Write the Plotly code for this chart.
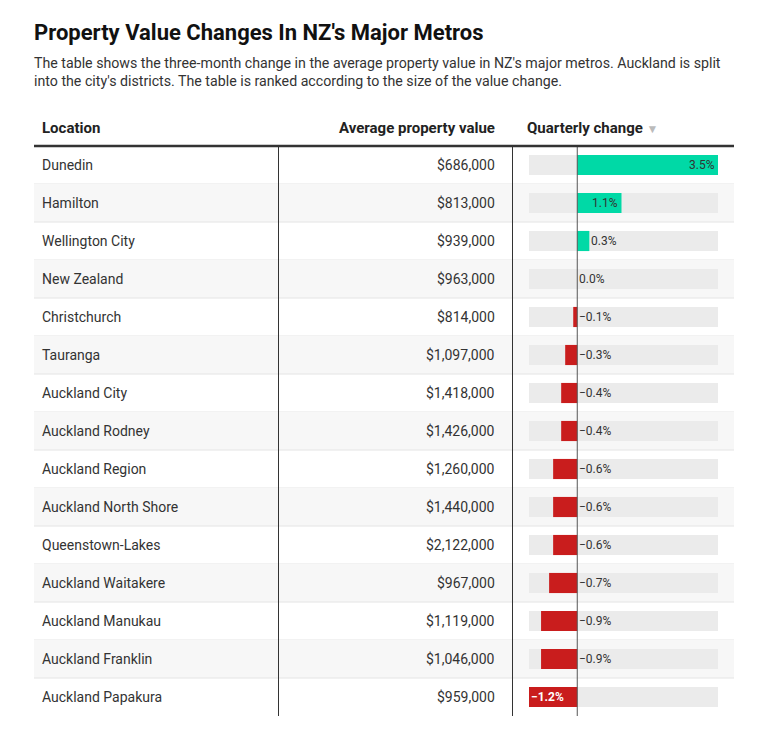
import plotly.graph_objects as go

locations = ["Dunedin", "Hamilton", "Wellington City", "New Zealand", "Christchurch",
             "Tauranga", "Auckland City", "Auckland Rodney", "Auckland Region",
             "Auckland North Shore", "Queenstown-Lakes", "Auckland Waitakere",
             "Auckland Manukau", "Auckland Franklin", "Auckland Papakura"]
values_usd = [686000, 813000, 939000, 963000, 814000, 1097000, 1418000, 1426000,
              1260000, 1440000, 2122000, 967000, 1119000, 1046000, 959000]
changes = [3.5, 1.1, 0.3, 0.0, -0.1, -0.3, -0.4, -0.4, -0.6, -0.6, -0.6, -0.7, -0.9, -0.9, -1.2]

# the page body adds an 8px margin, so the figure is offset and sized accordingly
OFF = 8
W, H = 744, 720
TOP, BOT = 146, 716
n = len(locations)
xmin, xmax = min(changes), max(changes)

def px(x):
    return (x - OFF) / W

def py(y):
    return 1 - (y - OFF) / H

GREEN = "#00d9a6"
RED = "#c91d1d"
TRACK = "#ebebeb"
TXT = "#333333"
FONT = "Roboto"

ys = list(range(n))
fig = go.Figure()
fig.add_trace(go.Bar(
    y=ys, x=[xmax - xmin] * n, base=[xmin] * n, orientation="h",
    marker=dict(color=TRACK, line=dict(width=0)), width=0.53, hoverinfo="skip"))
fig.add_trace(go.Bar(
    y=ys, x=changes, orientation="h",
    marker=dict(color=[GREEN if v >= 0 else RED for v in changes], line=dict(width=0)),
    width=0.53, hoverinfo="skip"))

shapes = []
annotations = []

for i in range(n):
    if i % 2 == 1:
        shapes.append(dict(type="rect", xref="paper", yref="y", x0=px(34), x1=px(734),
                           y0=i - 0.5, y1=i + 0.5, fillcolor="#f7f7f7",
                           line=dict(width=0), layer="below"))
    if i < n - 1:
        shapes.append(dict(type="line", xref="paper", yref="y", x0=px(34), x1=px(734),
                           y0=i + 0.5, y1=i + 0.5, line=dict(color="#e4e4e4", width=1),
                           layer="below"))

for xv in (278.5, 512.5):
    shapes.append(dict(type="line", xref="paper", yref="y", x0=px(xv), x1=px(xv),
                       y0=-0.5, y1=n - 0.5, line=dict(color="#333333", width=1)))
shapes.append(dict(type="line", xref="x", yref="y", x0=0, x1=0, y0=-0.5, y1=n - 0.5,
                   line=dict(color="#555555", width=1)))
shapes.append(dict(type="line", xref="paper", yref="paper", x0=px(34), x1=px(734),
                   y0=py(146), y1=py(146), line=dict(color="#333333", width=2.5)))

# annotation boxes add 2px padding; compensate so text edges land on target pixels
LEFT = lambda x: px(x - 2)
RIGHT = lambda x: px(x + 2)

annotations.append(dict(xref="paper", yref="paper", x=LEFT(34), y=py(33), xanchor="left",
                        yanchor="middle", showarrow=False,
                        text="<b>Property Value Changes In NZ's Major Metros</b>",
                        font=dict(family=FONT, size=22, color="#111111")))
annotations.append(dict(xref="paper", yref="paper", x=LEFT(34), y=py(72), xanchor="left",
                        yanchor="middle", showarrow=False, align="left",
                        text="The table shows the three-month change in the average property value in NZ's major metros. Auckland is split<br>into the city's districts. The table is ranked according to the size of the value change.",
                        font=dict(family=FONT, size=14.2, color="#333333")))
hy = py(128)
annotations.append(dict(xref="paper", yref="paper", x=LEFT(42), y=hy, xanchor="left",
                        yanchor="middle", showarrow=False, text="<b>Location</b>",
                        font=dict(family=FONT, size=15, color="#222222")))
annotations.append(dict(xref="paper", yref="paper", x=RIGHT(495), y=hy, xanchor="right",
                        yanchor="middle", showarrow=False, text="<b>Average property value</b>",
                        font=dict(family=FONT, size=15, color="#222222")))
annotations.append(dict(xref="paper", yref="paper", x=LEFT(527), y=hy, xanchor="left",
                        yanchor="middle", showarrow=False,
                        text="<b>Quarterly change</b> <span style='color:#bbbbbb;font-size:12px'>▼</span>",
                        font=dict(family=FONT, size=15, color="#222222")))

for i, (loc, val, ch) in enumerate(zip(locations, values_usd, changes)):
    annotations.append(dict(xref="paper", yref="y", x=LEFT(42), y=i, xanchor="left",
                            yanchor="middle", showarrow=False, text=loc,
                            font=dict(family=FONT, size=14, color=TXT)))
    annotations.append(dict(xref="paper", yref="y", x=RIGHT(495), y=i, xanchor="right",
                            yanchor="middle", showarrow=False, text=f"${val:,.0f}",
                            font=dict(family=FONT, size=14, color=TXT)))
    label = f"{ch:.1f}%".replace("-", "−")
    if ch >= 1.0:
        annotations.append(dict(xref="x", yref="y", x=ch, y=i, xanchor="right", xshift=-1,
                                yanchor="middle", showarrow=False, text=label,
                                font=dict(family=FONT, size=12, color="#333333")))
    elif ch <= -1.0:
        annotations.append(dict(xref="x", yref="y", x=ch, y=i, xanchor="left", xshift=0,
                                yanchor="middle", showarrow=False, text=f"<b>{label}</b>",
                                font=dict(family=FONT, size=12, color="#ffffff")))
    else:
        xa = max(ch, 0)
        annotations.append(dict(xref="x", yref="y", x=xa, y=i, xanchor="left", xshift=0,
                                yanchor="middle", showarrow=False, text=label,
                                font=dict(family=FONT, size=12, color="#333333")))

fig.update_layout(
    width=W, height=H, autosize=False,
    margin=dict(l=0, r=0, t=0, b=0),
    paper_bgcolor="white", plot_bgcolor="rgba(0,0,0,0)",
    showlegend=False, barmode="overlay",
    shapes=shapes, annotations=annotations,
    xaxis=dict(domain=[px(529), px(718)], range=[xmin, xmax], visible=False, fixedrange=True),
    yaxis=dict(domain=[py(BOT), py(TOP)], range=[n - 0.5, -0.5], visible=False, fixedrange=True),
)
fig.write_html("out.html")
